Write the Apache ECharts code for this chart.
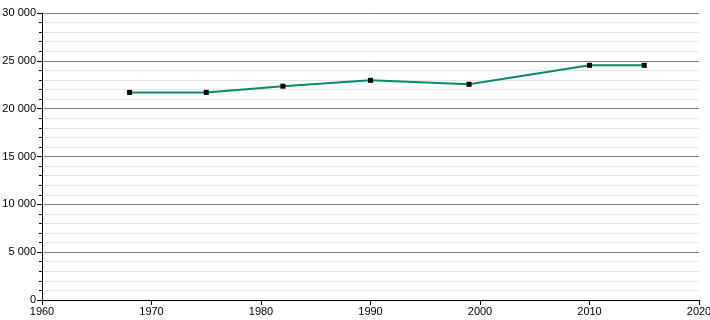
<!DOCTYPE html>
<html><head><meta charset="utf-8">
<script src="https://cdn.jsdelivr.net/npm/echarts@6/dist/echarts.min.js"></script>
<style>html,body{margin:0;padding:0;background:#fff}#c{width:710px;height:320px}</style>
</head><body><div id="c"></div>
<script>
var years = [1968, 1975, 1982, 1990, 1999, 2010, 2015];
var population = [21700, 21700, 22350, 22960, 22550, 24530, 24530];
var xTicks = [1960, 1970, 1980, 1990, 2000, 2010, 2020];
var yTicks = [0, 5000, 10000, 15000, 20000, 25000, 30000];

function fmt(v){ return String(v).replace(/\B(?=(\d{3})+(?!\d))/g, ' '); }
var chart = echarts.init(document.getElementById('c'), null, {renderer:'canvas'});
chart.setOption({
  animation:false,
  grid:{left:42, right:11, top:13, bottom:20, containLabel:false, outerBoundsMode:'none'},
  xAxis:{type:'value', min:xTicks[0], max:xTicks[xTicks.length-1], interval:10,
    axisLine:{show:true, onZero:false, lineStyle:{color:'#000', width:1}},
    axisTick:{show:true, length:5, lineStyle:{color:'#000'}},
    axisLabel:{color:'#000', fontSize:11, fontFamily:'Liberation Sans, Arial, sans-serif', margin:6, formatter:function(v){return String(v);}},
    splitLine:{show:false}},
  yAxis:{type:'value', min:yTicks[0], max:yTicks[yTicks.length-1], interval:5000,
    axisLine:{show:true, lineStyle:{color:'#000', width:1}},
    axisTick:{show:true, length:5, lineStyle:{color:'#000'}},
    minorTick:{show:true, splitNumber:5, length:3, lineStyle:{color:'#000'}},
    axisLabel:{color:'#000', fontSize:11, fontFamily:'Liberation Sans, Arial, sans-serif', margin:6, formatter:fmt},
    splitLine:{show:true, lineStyle:{color:'#808080', width:1}},
    minorSplitLine:{show:true, lineStyle:{color:'#e4e4e4', width:1}}},
  series:[{type:'line', data:years.map(function(y,i){return [y, population[i]];}),
    symbol:'rect', symbolSize:5, itemStyle:{color:'#000'},
    lineStyle:{color:'#0a8a6a', width:2}}]
});
</script></body></html>
